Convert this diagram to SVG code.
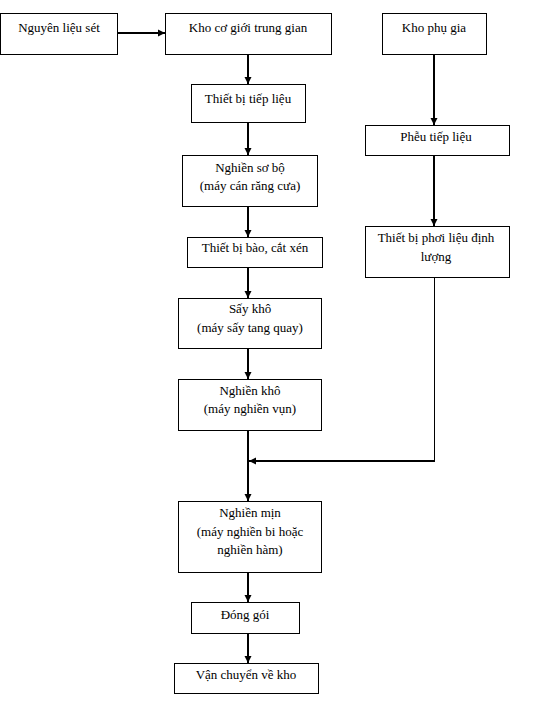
<svg xmlns="http://www.w3.org/2000/svg" width="560" height="701" viewBox="0 0 560 701">
<defs>
<marker id="ah" markerUnits="userSpaceOnUse" markerWidth="8" markerHeight="8" refX="7" refY="4" orient="auto">
<path d="M0,0.5 L7,4 L0,7.5 Z" fill="#000"/>
</marker>
<style>
.b{fill:#fff;stroke:#000;stroke-width:1}
.t{font-family:'Liberation Serif','Times New Roman',serif;font-size:13px;fill:#000;text-anchor:middle}
.c{stroke:#000;stroke-width:2;fill:none}
.c1{stroke:#000;stroke-width:1;fill:none}
</style>
</defs>
<rect width="560" height="701" fill="#fff"/>
<g id="connectors">
<line class="c" x1="117" y1="33" x2="165" y2="33" marker-end="url(#ah)"/>
<line class="c" x1="248" y1="54" x2="248" y2="84" marker-end="url(#ah)"/>
<line class="c" x1="248" y1="122" x2="248" y2="155" marker-end="url(#ah)"/>
<line class="c" x1="248" y1="206" x2="248" y2="237" marker-end="url(#ah)"/>
<line class="c" x1="248" y1="267" x2="248" y2="298" marker-end="url(#ah)"/>
<line class="c" x1="248" y1="348" x2="248" y2="379" marker-end="url(#ah)"/>
<line class="c" x1="248" y1="430" x2="248" y2="501" marker-end="url(#ah)"/>
<line class="c" x1="248" y1="572" x2="248" y2="602" marker-end="url(#ah)"/>
<line class="c" x1="248" y1="633" x2="248" y2="663" marker-end="url(#ah)"/>
<line class="c" x1="434" y1="54" x2="434" y2="125" marker-end="url(#ah)"/>
<line class="c" x1="434" y1="155" x2="434" y2="226" marker-end="url(#ah)"/>
<line class="c1" x1="434.5" y1="277" x2="434.5" y2="461"/>
<line class="c" x1="435" y1="461" x2="249" y2="461" marker-end="url(#ah)"/>
</g>
<g id="n1"><rect class="b" x="0.5" y="13.5" width="117" height="41"/><text class="t" x="59" y="32">Nguyên liệu sét</text></g>
<g id="n2"><rect class="b" x="165.5" y="13.5" width="166" height="41"/><text class="t" x="248" y="32">Kho cơ giới trung gian</text></g>
<g id="n3"><rect class="b" x="382.5" y="13.5" width="104" height="41"/><text class="t" x="434" y="32">Kho phụ gia</text></g>
<g id="n4"><rect class="b" x="191.5" y="84.5" width="114" height="38"/><text class="t" x="248" y="103">Thiết bị tiếp liệu</text></g>
<g id="n5"><rect class="b" x="365.5" y="125.5" width="144" height="30"/><text class="t" x="436" y="141">Phễu tiếp liệu</text></g>
<g id="n6"><rect class="b" x="182.5" y="155.5" width="135" height="51"/><text class="t" x="250" y="172">Nghiền sơ bộ</text><text class="t" x="250" y="190">(máy cán răng cưa)</text></g>
<g id="n7"><rect class="b" x="365.5" y="226.5" width="144" height="51"/><text class="t" x="436" y="242">Thiết bị phơi liệu định</text><text class="t" x="436" y="261">lượng</text></g>
<g id="n8"><rect class="b" x="187.5" y="237.5" width="135" height="30"/><text class="t" x="255" y="252">Thiết bị bào, cắt xén</text></g>
<g id="n9"><rect class="b" x="178.5" y="298.5" width="143" height="50"/><text class="t" x="250" y="313">Sấy khô</text><text class="t" x="250" y="332">(máy sấy tang quay)</text></g>
<g id="n10"><rect class="b" x="178.5" y="379.5" width="143" height="51"/><text class="t" x="250" y="395">Nghiền khô</text><text class="t" x="250" y="413">(máy nghiền vụn)</text></g>
<g id="n11"><rect class="b" x="178.5" y="501.5" width="143" height="71"/><text class="t" x="250" y="517">Nghiền mịn</text><text class="t" x="250" y="536">(máy nghiền bi hoặc</text><text class="t" x="250" y="554">nghiền hàm)</text></g>
<g id="n12"><rect class="b" x="191.5" y="602.5" width="108" height="31"/><text class="t" x="245" y="619">Đóng gói</text></g>
<g id="n13"><rect class="b" x="174.5" y="663.5" width="144" height="30"/><text class="t" x="246" y="679">Vận chuyển về kho</text></g>
</svg>
